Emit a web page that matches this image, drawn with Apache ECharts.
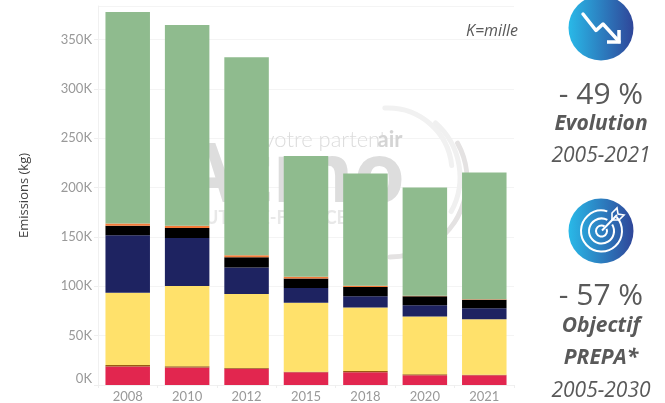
<!DOCTYPE html>
<html><head><meta charset="utf-8">
<style>html,body{margin:0;padding:0;background:#fff}#c{width:665px;height:403px}</style>
<script src="https://cdn.jsdelivr.net/npm/echarts@6/dist/echarts.min.js"></script>
</head><body><div id="c"></div>
<script>
const years = ['2008','2010','2012','2015','2018','2020','2021'];
const red    = [18.8, 17.8, 16.5, 12.8, 12.8, 10.0, 10.0];
const brown  = [ 1.4,  1.1,  0.6,  0.6,  1.3,  0.8,  0.5];
const yellow = [73.3, 81.3, 75.0, 70.0, 64.3, 58.5, 56.1];
const navy   = [58.1, 48.8, 26.9, 14.8, 11.4, 11.4, 11.1];
const black  = [ 9.8, 10.0, 10.4,  9.7,  9.4,  9.1,  8.7];
const orange = [ 2.3,  2.4,  2.0,  1.7,  1.3,  0.7,  0.6];
const green  = [214.3,203.4,200.8,122.4,113.9,109.5,128.2];
const seriesDefs = [
  ['Rouge', red, '#e2264f'], ['Brun', brown, '#9a5a12'], ['Jaune', yellow, '#ffe16b'],
  ['Bleu', navy, '#1e2361'], ['Noir', black, '#000000'], ['Orange', orange, '#f47b3a'],
  ['Vert', green, '#8fbb8e']
];
const grad = {type:'linear',x:0,y:0,x2:1,y2:0,colorStops:[{offset:0,color:'#29b9e8'},{offset:1,color:'#2f4699'}]};
const txt = (x,y,text,font,fill,align)=>({type:'text',z:5,x,y,style:{text,font,fill:fill||'#595959',align:align||'center',verticalAlign:'middle'}});
const white = {stroke:'#fff',fill:'none',lineWidth:2};
const arc = (cx,cy,r,a,b,col,w)=>({type:'arc',z:1,shape:{cx,cy,r,startAngle:a,endAngle:b},style:{stroke:col,lineWidth:w,lineCap:'round',fill:'none'}});
const graphics = [
  // filigrane
  txt(324,140,"votre parten'","300 22px Lato",'#dcdcdc'),
  txt(390,140,"air","700 22px Lato",'#d4d4d4'),
  txt(292,178,"Atmo","700 83px 'Open Sans'",'#dddddd'),
  txt(263,218,"HAUTS-DE-FRANCE","700 18px Lato",'#e8e8e8'),
  arc(388,172,64,-1.62,-0.1,'#f1f1f1',5),
  arc(388,177,72,-0.85,0.5,'#f0f0f0',5),
  arc(390,180,77,-0.5,1.57,'#e4e2e2',5),
  // icone evolution
  {type:'circle',z:5,shape:{cx:601,cy:28,r:32.5},style:{fill:grad}},
  {type:'polyline',z:6,shape:{points:[[583,14],[596,30.5],[603,24],[619,41.5]]},style:{stroke:'#fff',fill:'none',lineWidth:3.5,lineCap:'round',lineJoin:'round'}},
  {type:'polyline',z:6,shape:{points:[[619,30],[619,42],[607,42]]},style:{stroke:'#fff',fill:'none',lineWidth:3.5}},
  // icone objectif
  {type:'circle',z:5,shape:{cx:601,cy:231,r:32.5},style:{fill:grad}},
  {type:'arc',z:6,shape:{cx:601.5,cy:231,r:20.5,startAngle:-0.75,endAngle:5.0},style:white},
  {type:'arc',z:6,shape:{cx:601.5,cy:231,r:12.5,startAngle:-0.55,endAngle:5.2},style:white},
  {type:'arc',z:6,shape:{cx:601.5,cy:231,r:5.5,startAngle:-0.4,endAngle:5.3},style:white},
  {type:'line',z:6,shape:{x1:602,y1:230.5,x2:617,y2:215},style:white},
  {type:'polyline',z:6,shape:{points:[[612,220],[612,213],[617,208],[618,214],[624,215],[619,220],[612,220]]},style:{stroke:'#fff',fill:'none',lineWidth:1.6}},
  // textes
  txt(492,31,"K=mille","italic 400 16px 'Open Sans'",'#595959'),
  txt(601,95,"- 49 %","500 30px 'Open Sans'"),
  txt(601,124,"Evolution","italic 700 21px 'Open Sans'"),
  txt(601,156,"2005-2021","italic 400 21px 'Open Sans'"),
  txt(601,296,"- 57 %","500 30px 'Open Sans'"),
  txt(601,326,"Objectif","italic 700 21px 'Open Sans'"),
  txt(601,358,"PREPA*","italic 700 21px 'Open Sans'"),
  txt(601,391,"2005-2030","italic 400 21px 'Open Sans'")
];
const chart = echarts.init(document.getElementById('c'),null,{renderer:'canvas'});
chart.setOption({
  animation:false,
  grid:{left:98,right:151,top:6,bottom:16,containLabel:false},
  graphic:graphics,
  xAxis:{type:'category',data:years,
    axisLine:{lineStyle:{color:'#f0f0f0'}},axisTick:{show:true,length:3,lineStyle:{color:'#eeeeee'}},
    axisLabel:{color:'#999',fontFamily:'Lato',fontSize:13,margin:5}},
  yAxis:{type:'value',min:0,max:384000,interval:50000,
    name:'Emissions (kg)',nameLocation:'middle',nameGap:67,nameRotate:90,
    nameTextStyle:{color:'#444',fontFamily:'Open Sans',fontSize:13},
    axisLine:{show:true,lineStyle:{color:'#f0f0f0'}},axisTick:{show:true,length:4,lineStyle:{color:'#eeeeee'}},
    splitLine:{lineStyle:{color:'#f4f4f4'}},
    axisLabel:{color:'#999',fontFamily:'Lato',fontSize:13,margin:6,verticalAlignMinLabel:'bottom',
      showMaxLabel:false,formatter:v=>(v/1000)+'K'}},
  series:seriesDefs.map(([name,vals,color])=>({
    name,type:'bar',stack:'a',barWidth:44.5,zlevel:1,
    data:vals.map(v=>v*1000),itemStyle:{color}
  }))
});
</script></body></html>
